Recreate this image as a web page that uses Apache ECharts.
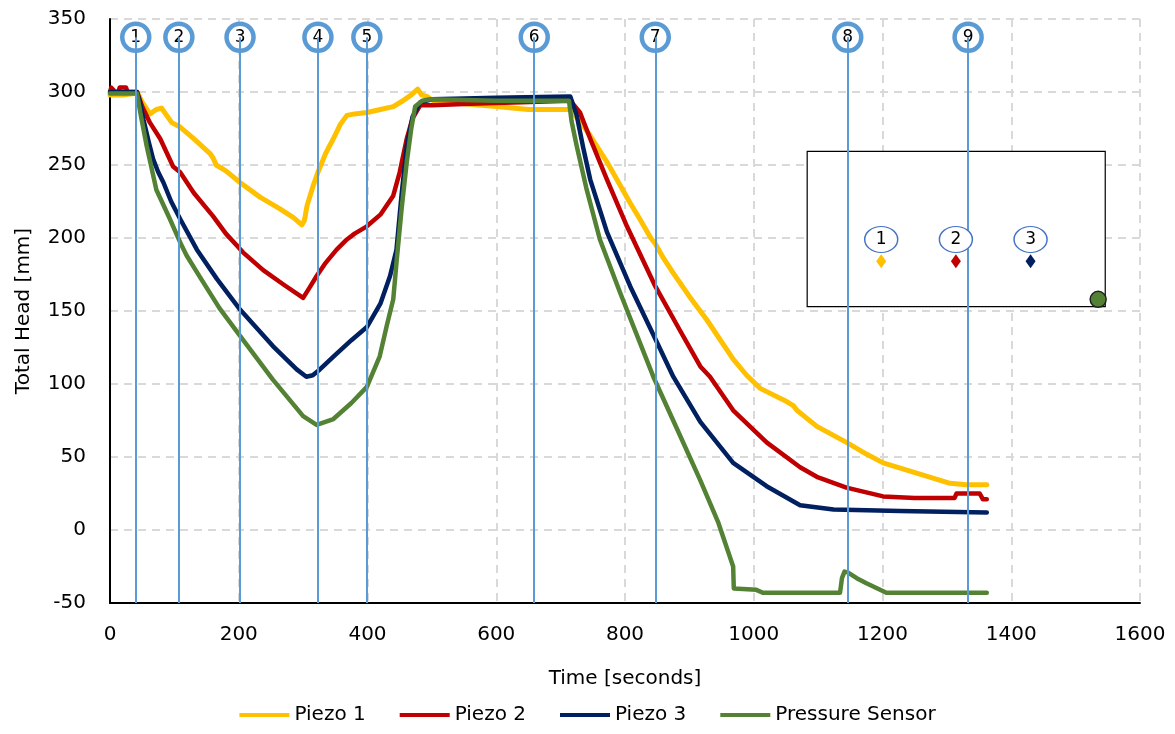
<!DOCTYPE html>
<html>
<head>
<meta charset="utf-8">
<script src="https://cdn.jsdelivr.net/npm/echarts@6/dist/echarts.min.js"></script>
<style>html,body{margin:0;padding:0;background:#fff}#chart{width:1175px;height:734px}</style>
</head>
<body>
<div id="chart"></div>
<script>
// ---- data ----
const seriesNames = ['Piezo 1', 'Piezo 2', 'Piezo 3', 'Pressure Sensor'];
const piezo1 = [[0,298],[20,298],[38,299],[42,300],[50,293],[62,285],[72,288],[80,289],[88,284],[96,279],[109,276],[130,268],[155,258],[160,255],[165,250],[180,246],[202,238],[233,228],[264,220],[285,214],[298,209],[302,212],[306,222],[315,235],[323,245],[335,258],[347,268],[358,278],[368,284],[380,285],[399,286],[420,288],[440,290],[455,294],[468,298],[478,302],[484,298],[492,297],[502,294],[550,292],[600,290],[650,288],[715,288],[730,280],[746,270],[772,252],[808,224],[823,213],[840,200],[847,196],[860,186],[875,176],[900,160],[927,144],[968,117],[989,106],[1010,97],[1051,88],[1062,85],[1067,82],[1098,71],[1144,60],[1175,52],[1201,46],[1253,39],[1305,32],[1330,31],[1362,31]];
const piezo2 = [[0,300],[2,303],[5,302],[8,300],[13,300],[15,303],[25,303],[27,300],[42,300],[50,290],[62,279],[78,268],[98,249],[109,245],[130,231],[160,215],[180,203],[207,190],[238,178],[270,168],[300,159],[310,166],[321,174],[335,183],[352,192],[368,199],[380,203],[399,208],[420,216],[440,229],[450,245],[461,268],[470,282],[482,291],[500,291],[560,292],[640,293],[715,294],[730,286],[746,268],[772,240],[803,208],[847,167],[885,137],[917,112],[932,105],[968,82],[1020,60],[1072,43],[1100,36],[1144,29],[1201,23],[1250,22],[1312,22],[1315,25],[1351,25],[1356,21],[1362,21]];
const piezo3 = [[0,300],[42,300],[47,292],[52,281],[60,266],[67,254],[75,245],[83,238],[95,225],[109,213],[135,192],[166,172],[202,151],[253,126],[290,110],[305,105],[315,106],[326,110],[350,120],[375,130],[399,139],[420,155],[435,174],[445,192],[453,230],[461,263],[470,283],[482,293],[500,295],[600,296],[715,297],[725,284],[735,262],[746,240],[772,204],[808,167],[847,131],[875,105],[917,74],[968,46],[1020,30],[1072,17],[1124,14],[1227,13],[1362,12]];
const pressureSensor = [[0,299],[42,299],[47,286],[57,263],[72,233],[93,213],[109,197],[119,188],[140,173],[170,152],[202,133],[253,103],[300,78],[321,72],[347,76],[375,87],[399,98],[419,119],[430,140],[440,158],[445,183],[453,220],[461,252],[468,275],[474,290],[485,294],[497,295],[600,294],[713,294],[717,280],[725,263],[740,234],[761,199],[792,163],[844,105],[880,70],[917,34],[945,5],[968,-25],[969,-40],[1004,-41],[1014,-43],[1134,-43],[1137,-33],[1141,-28.5],[1146,-29],[1160,-33],[1175,-36.5],[1206,-43],[1362,-43]];
const seriesData = [piezo1, piezo2, piezo3, pressureSensor];
const seriesColors = ['#FFC000', '#C00000', '#002060', '#548235'];

// event markers (time in seconds) and their labels
const markerTimes = [40, 107, 202, 323, 399, 659, 847, 1146, 1333];
const markerLabels = ['1','2','3','4','5','6','7','8','9'];
const markerLabelY = 337.5;

// inset box annotation (data coords)
const insetBox = [[1083, 259.4], [1546, 153]];
const insetLabels = ['1', '2', '3'];
const insetLabelX = [1198, 1314, 1430];
const insetLabelY = 199;
const insetDiamondY = 184;
const insetDot = [1535, 158];

// axis ticks
const xMin = 0, xMax = 1600, xStep = 200;
const yMin = -50, yMax = 350, yStep = 50;

// ---- chart ----
const FONT = 'DejaVu Sans';
const chart = echarts.init(document.getElementById('chart'), null, {renderer: 'canvas'});
const series = seriesNames.map((name, i) => ({
  name: name,
  type: 'line',
  data: seriesData[i],
  showSymbol: false,
  symbol: 'none',
  lineStyle: {color: seriesColors[i], width: i === 0 ? 5 : 4.5, cap: 'round', join: 'round'},
  itemStyle: {color: seriesColors[i]},
  z: 2 + i * 0.01,
  animation: false
}));

// vertical marker lines
series.push({
  name: 'markers-lines',
  type: 'line',
  data: [],
  z: 3,
  silent: true,
  markLine: {
    silent: true,
    symbol: ['none', 'none'],
    label: {show: false},
    lineStyle: {color: '#5B9BD5', width: 2, type: 'solid'},
    data: markerTimes.map(t => [{coord: [t, yMin]}, {coord: [t, markerLabelY]}]),
    animation: false
  }
});
// marker circles
series.push({
  name: 'markers-circles',
  type: 'scatter',
  z: 4,
  silent: true,
  symbol: 'circle',
  symbolSize: 27,
  itemStyle: {color: '#ffffff', borderColor: '#5B9BD5', borderWidth: 4.5, opacity: 1},
  label: {show: true, position: 'inside', formatter: p => markerLabels[p.dataIndex], color: '#000', fontFamily: FONT, fontSize: 17},
  data: markerTimes.map(t => [t, markerLabelY]),
  animation: false
});
// inset box
series.push({
  name: 'inset-box',
  type: 'scatter',
  z: 5,
  silent: true,
  data: [],
  markArea: {
    silent: true,
    itemStyle: {color: '#ffffff', borderColor: '#000000', borderWidth: 1.2, opacity: 1},
    data: [[{coord: insetBox[0]}, {coord: insetBox[1]}]],
    animation: false
  }
});
series.push({
  name: 'inset-ellipses',
  type: 'scatter',
  z: 6,
  silent: true,
  symbol: 'circle',
  symbolSize: [33, 26],
  itemStyle: {color: '#ffffff', borderColor: '#4472C4', borderWidth: 1.3, opacity: 1},
  label: {show: true, position: 'inside', formatter: p => insetLabels[p.dataIndex], color: '#000', fontFamily: FONT, fontSize: 17},
  data: insetLabelX.map(x => [x, insetLabelY]),
  animation: false
});
series.push({
  name: 'inset-diamonds',
  type: 'scatter',
  z: 6,
  silent: true,
  symbol: 'diamond',
  symbolSize: [10, 14],
  data: insetLabelX.map((x, i) => ({value: [x, insetDiamondY], itemStyle: {color: seriesColors[i], opacity: 1}})),
  animation: false
});
series.push({
  name: 'inset-dot',
  type: 'scatter',
  z: 6,
  silent: true,
  symbol: 'circle',
  symbolSize: 16,
  itemStyle: {color: seriesColors[3], borderColor: '#222', borderWidth: 1.5, opacity: 1},
  data: [insetDot],
  animation: false
});

chart.setOption({
  animation: false,
  backgroundColor: '#ffffff',
  textStyle: {fontFamily: FONT},
  grid: {left: 110, right: 35, top: 19, bottom: 131, containLabel: false},
  legend: {
    data: seriesNames,
    bottom: 4,
    left: 'center',
    icon: 'rect',
    itemWidth: 50,
    itemHeight: 4,
    itemGap: 34,
    textStyle: {fontFamily: FONT, fontSize: 20, color: '#000'}
  },
  xAxis: {
    type: 'value',
    min: xMin, max: xMax, interval: xStep,
    name: 'Time [seconds]',
    nameLocation: 'middle',
    nameGap: 66,
    nameTextStyle: {fontFamily: FONT, fontSize: 20, color: '#000'},
    axisLine: {show: true, onZero: false, lineStyle: {color: '#000', width: 2}},
    axisTick: {show: false},
    axisLabel: {fontFamily: FONT, fontSize: 20, color: '#000', margin: 22, formatter: v => String(v)},
    splitLine: {show: true, lineStyle: {color: '#D9D9D9', width: 2, type: [8, 6]}}
  },
  yAxis: {
    type: 'value',
    min: yMin, max: yMax, interval: yStep,
    name: 'Total Head [mm]',
    nameLocation: 'middle',
    nameGap: 76,
    nameTextStyle: {fontFamily: FONT, fontSize: 20, color: '#000'},
    axisLine: {show: true, onZero: false, lineStyle: {color: '#000', width: 2}},
    axisTick: {show: false},
    axisLabel: {fontFamily: FONT, fontSize: 20, color: '#000', margin: 24, formatter: v => String(v)},
    splitLine: {show: true, lineStyle: {color: '#D9D9D9', width: 2, type: [8, 6]}}
  },
  series: series
});
</script>
</body>
</html>
